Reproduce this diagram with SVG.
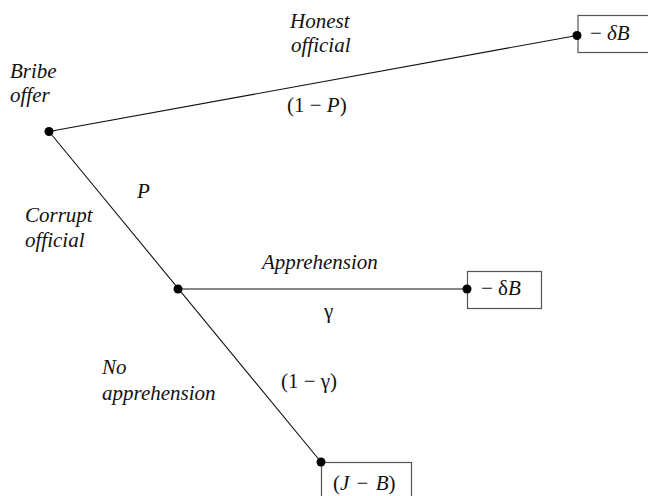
<svg xmlns="http://www.w3.org/2000/svg" width="648" height="496" viewBox="0 0 648 496">
  <style>
    text { font-family: 'Liberation Serif', 'Times New Roman', serif; font-size: 21px; fill: #111; }
    .lbl { font-style: italic; }
    .edge { stroke: #111; stroke-width: 1.1; fill: none; }
    .box { fill: #fff; stroke: #555; stroke-width: 1.2; }
    .dot { fill: #000; }
  </style>
  <rect width="648" height="496" fill="#fff"/>
  <g id="connectors">
    <line class="edge" x1="49" y1="131.5" x2="577" y2="35.5"/>
    <line class="edge" x1="49" y1="131.5" x2="321" y2="462"/>
    <line class="edge" x1="178" y1="289" x2="467" y2="289"/>
  </g>
  <g id="edge-labels">
    <text class="lbl" x="290" y="28">Honest</text>
    <text class="lbl" x="291" y="52">official</text>
    <text x="287" y="112">(1 − <tspan font-style="italic">P</tspan>)</text>
    <text class="lbl" x="137" y="198">P</text>
    <text class="lbl" x="25" y="222">Corrupt</text>
    <text class="lbl" x="25" y="247">official</text>
    <text class="lbl" x="262" y="269">Apprehension</text>
    <text x="324" y="318">γ</text>
    <text class="lbl" x="102" y="374">No</text>
    <text class="lbl" x="102" y="400">apprehension</text>
    <text x="281" y="388">(1 − γ)</text>
  </g>
  <g id="node-bribe">
    <circle class="dot" cx="49" cy="131.5" r="4.5"/>
    <text class="lbl" x="10" y="78">Bribe</text>
    <text class="lbl" x="10" y="102">offer</text>
  </g>
  <g id="node-honest">
    <rect class="box" x="578" y="15.5" width="80" height="37"/>
    <circle class="dot" cx="577" cy="35.5" r="4.5"/>
    <text x="590" y="40">− <tspan font-style="italic">δB</tspan></text>
  </g>
  <g id="node-corrupt">
    <circle class="dot" cx="178" cy="289" r="4.5"/>
  </g>
  <g id="node-apprehension">
    <rect class="box" x="467.5" y="271.5" width="74" height="37"/>
    <circle class="dot" cx="467" cy="289" r="4.5"/>
    <text x="481" y="295">− δ<tspan font-style="italic">B</tspan></text>
  </g>
  <g id="node-noapprehension">
    <rect class="box" x="321.5" y="462.5" width="90" height="40"/>
    <circle class="dot" cx="321" cy="462" r="4.5"/>
    <text x="333" y="490" font-size="23">(<tspan font-style="italic">J</tspan> <tspan dx="2">−</tspan> <tspan dx="2" font-style="italic">B</tspan>)</text>
  </g>
</svg>
